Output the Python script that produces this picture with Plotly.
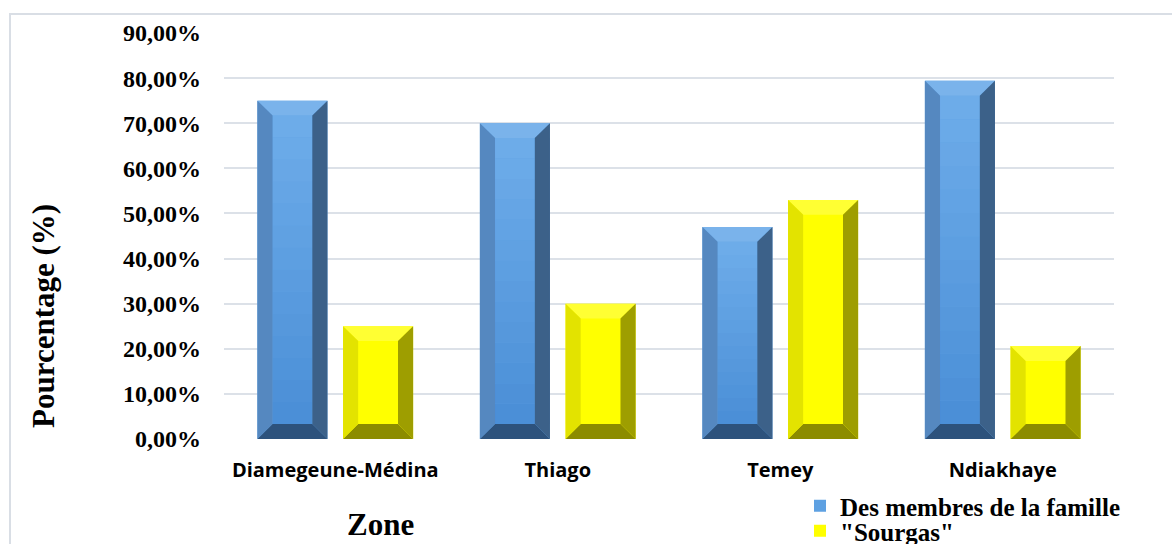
import plotly.graph_objects as go

# Data
zones = ["Diamegeune-Médina", "Thiago", "Temey", "Ndiakhaye"]
famille = [75.0, 70.0, 47.0, 79.4]
sourgas = [25.0, 30.0, 53.0, 20.6]
series_names = ["Des membres de la famille", "\"Sourgas\""]
y_ticks = [0, 10, 20, 30, 40, 50, 60, 70, 80, 90]
y_tick_text = [f"{t:.2f}".replace(".", ",") + "%" for t in y_ticks]

# Geometry of the grouped bars (in x-axis units, one unit per zone)
SLOT = 0.385      # distance between the two bars of a group
BAR_W = 0.315     # bar width
BEVEL_X = 0.068   # bevel depth, horizontal (axis units)
BEVEL_Y = 3.3     # bevel depth, vertical (percentage units)
BANDS = 14        # steps of the vertical shading on the front face

W, H = 1172, 544
M_L, M_R, M_T, M_B = 224, 58, 33, 105

palettes = {
    "blue": dict(face="#5EA1E2", face_top="#6EADEA", face_bottom="#4A8ED6",
                 top="#7AB3EB", left="#5588C0",
                 right="#3C6189", bottom="#2D527C"),
    "yellow": dict(face="#FFFF00", face_top="#FFFF00", face_bottom="#FFFF00",
                   top="#FFFF33", left="#E3E300",
                   right="#9E9E00", bottom="#8C8C00"),
}


def mix(c1, c2, t):
    a = [int(c1[k:k + 2], 16) for k in (1, 3, 5)]
    b = [int(c2[k:k + 2], 16) for k in (1, 3, 5)]
    return "#" + "".join(f"{round(x + (y - x) * t):02X}" for x, y in zip(a, b))


fig = go.Figure()

series = [(famille, -SLOT / 2, "blue"), (sourgas, SLOT / 2, "yellow")]
legend_ids = ["legend", "legend2"]
xs = list(range(len(zones)))

for (vals, shift, pal), name, lg in zip(series, series_names, legend_ids):
    p = palettes[pal]
    fig.add_trace(go.Bar(
        x=[i + shift for i in xs], y=vals, width=BAR_W, name=name,
        legend=lg,
        marker=dict(color=p["face"], line=dict(width=0)),
        hovertemplate="%{y:.2f}%<extra>" + name + "</extra>",
    ))

# Bevelled faces drawn over each bar from its value
shapes = []
for vals, shift, pal in series:
    p = palettes[pal]
    for i, v in enumerate(vals):
        c = i + shift
        x0, x1 = c - BAR_W / 2, c + BAR_W / 2
        bx, by = BEVEL_X, BEVEL_Y
        # shaded front face
        if p["face_top"] != p["face_bottom"]:
            lo, hi = by, v - by
            for k in range(BANDS):
                ya = lo + (hi - lo) * k / BANDS
                yb = lo + (hi - lo) * (k + 1) / BANDS
                shapes.append(dict(
                    type="rect", xref="x", yref="y",
                    x0=x0 + bx, x1=x1 - bx, y0=ya, y1=yb,
                    fillcolor=mix(p["face_bottom"], p["face_top"],
                                  (k + 0.5) / BANDS),
                    line=dict(width=0), layer="above"))
        polys = {
            "top": [(x0, v), (x1, v), (x1 - bx, v - by), (x0 + bx, v - by)],
            "bottom": [(x0, 0), (x1, 0), (x1 - bx, by), (x0 + bx, by)],
            "left": [(x0, 0), (x0, v), (x0 + bx, v - by), (x0 + bx, by)],
            "right": [(x1, 0), (x1, v), (x1 - bx, v - by), (x1 - bx, by)],
        }
        for side, pts in polys.items():
            path = "M " + " L ".join(f"{px},{py}" for px, py in pts) + " Z"
            shapes.append(dict(type="path", path=path, xref="x", yref="y",
                               fillcolor=p[side], line=dict(width=0),
                               layer="above"))

# Outer chart frame
pw, ph = W - M_L - M_R, H - M_T - M_B
shapes.append(dict(type="rect", xref="paper", yref="paper",
                   x0=(10 - M_L) / pw, x1=(W + 20 - M_L) / pw,
                   y0=(H - M_B - (H + 20)) / ph, y1=(H - M_B - 14) / ph,
                   line=dict(color="#D9DEE5", width=2),
                   fillcolor="rgba(0,0,0,0)", layer="below"))

serif = "Liberation Serif"
legend_font = dict(family=serif, size=25, weight="bold", color="black")


def legend_at(top_px):
    return dict(
        xref="container", yref="container",
        x=800 / W, y=1 - top_px / H, xanchor="left", yanchor="top",
        font=legend_font, itemwidth=30, bgcolor="rgba(0,0,0,0)",
    )


def px_x(px):
    return (px - M_L) / pw


def px_y(py):
    return (H - M_B - py) / ph


fig.update_layout(
    width=W, height=H,
    margin=dict(l=M_L, r=M_R, t=M_T, b=M_B, autoexpand=False),
    paper_bgcolor="white", plot_bgcolor="white",
    showlegend=True,
    shapes=shapes,
    xaxis=dict(
        range=[-0.5, 3.5], tickvals=xs, ticktext=zones,
        showgrid=False, zeroline=False, showline=False, ticks="",
        tickfont=dict(family="Open Sans", size=20, weight="bold", color="black"),
        ticklabelstandoff=17,
    ),
    yaxis=dict(
        range=[0, 90], tickvals=y_ticks, ticktext=y_tick_text,
        showgrid=True, gridcolor="#DCE1E8", gridwidth=1.5,
        zeroline=False, showline=False, ticks="",
        tickfont=dict(family=serif, size=24, weight="bold", color="black"),
        ticklabelstandoff=22,
    ),
    legend=legend_at(483),
    legend2=legend_at(508),
    annotations=[
        dict(text="Pourcentage (%)", textangle=-90,
             xref="paper", yref="paper", x=px_x(43), y=px_y(316),
             xanchor="center", yanchor="middle", showarrow=False,
             font=dict(family=serif, size=31, weight="bold", color="black")),
        dict(text="Zone", xref="paper", yref="paper", x=px_x(380), y=px_y(524),
             xanchor="center", yanchor="middle", showarrow=False,
             font=dict(family=serif, size=31, weight="bold", color="black")),
    ],
)

fig.write_html("out.html")
